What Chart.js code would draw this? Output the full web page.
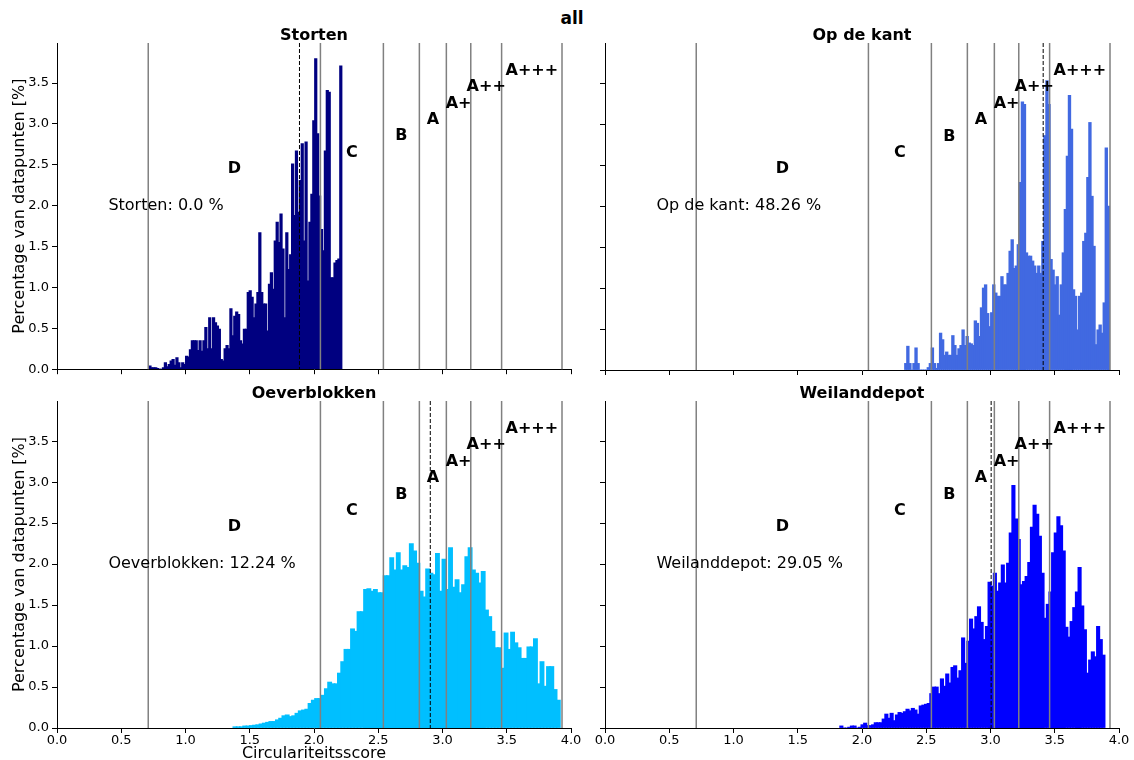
<!DOCTYPE html>
<html>
<head>
<meta charset="utf-8">
<script src="https://cdn.jsdelivr.net/npm/chart.js@4.4.0/dist/chart.umd.min.js"></script>
<style>
  body { margin: 0; background: #fff; width: 1134px; height: 760px; overflow: hidden; position: relative; }
  .panel { position: absolute; }
  #suptitle { position: absolute; left: 472px; width: 200px; top: 8px; text-align: center;
              font: bold 17px 'DejaVu Sans', sans-serif; line-height: 20px; color: #000; }
</style>
</head>
<body>
<div id="suptitle">all</div>
<script>
// groups (subplot titles) and their share of all data points
const groups = ["Storten", "Op de kant", "Oeverblokken", "Weilanddepot"];
const shares = ["0.0", "48.26", "12.24", "29.05"];
const means = [1.887, 3.41, 2.905, 3.005];
// each histogram has 100 bins between these limits
const binStart = [0.716, 2.333, 1.372, 1.829];
const binEnd = [2.216, 3.925, 3.914, 3.889];

const storten = [
  0.04, 0.02, 0.02, 0.02, 0.01, 0, 0, 0.02, 0.08, 0.03,
  0.06, 0.1, 0.12, 0.05, 0.14, 0.08, 0.02, 0.08, 0.06, 0.16,
  0.15, 0.24, 0.35, 0.35, 0.35, 0.23, 0.35, 0.22, 0.35, 0.51,
  0.25, 0.63, 0.25, 0.63, 0.57, 0.53, 0.49, 0.12, 0.1, 0.25,
  0.29, 0.25, 0.74, 0.41, 0.65, 0.7, 0.67, 0.35, 0.31, 0.49,
  0.49, 0.94, 0.96, 0.88, 0.63, 0.8, 0.94, 1.67, 0.94, 0.8,
  0.8, 0.47, 1.04, 1.18, 0.98, 1.57, 1.8, 1.55, 1.9, 1.47,
  0.63, 1.67, 1.22, 1.4, 2.51, 1.88, 2.67, 1.92, 2.31, 2.76,
  1.57, 2.78, 1.08, 1.8, 2.14, 3.04, 3.8, 2.88, 2.12, 1.71,
  1.45, 2.67, 3.41, 3.39, 1.12, 1.12, 1.3, 1.33, 1.35, 3.71
];
const opDeKant = [
  0.08, 0.29, 0.08, 0, 0.08, 0.27, 0.08, 0, 0, 0,
  0, 0.03, 0.08, 0.27, 0.08, 0.02, 0.08, 0.45, 0.37, 0.18,
  0.22, 0.18, 0.18, 0.42, 0.3, 0.18, 0.26, 0.3, 0.49, 0.3,
  0.41, 0.33, 0.32, 0.3, 0.6, 0.57, 0.41, 0.76, 1.0, 1.04,
  0.69, 0.53, 0.7, 1.04, 0.94, 0.9, 0.9, 1.14, 1.04, 1.04,
  1.18, 1.45, 1.59, 1.24, 1.27, 1.53, 2.29, 3.27, 3.24, 1.43,
  1.39, 1.39, 1.33, 1.27, 1.18, 1.27, 1.18, 1.57, 2.86, 3.53,
  3.24, 1.35, 1.22, 1.04, 1.14, 0.67, 1.04, 1.43, 1.96, 2.61,
  3.35, 2.94, 0.98, 0.9, 0.49, 0.9, 0.94, 1.57, 1.67, 2.35,
  3.02, 2.12, 1.51, 0.31, 0.49, 0.55, 0.45, 0.82, 2.71, 2.0
];
const oeverblokken = [
  0.015, 0.015, 0.015, 0.025, 0.025, 0.03, 0.035, 0.04, 0.05, 0.06,
  0.07, 0.08, 0.08, 0.1, 0.12, 0.15, 0.16, 0.14, 0.15, 0.18,
  0.21, 0.22, 0.23, 0.3, 0.34, 0.36, 0.36, 0.4, 0.48, 0.56,
  0.54, 0.54, 0.67, 0.81, 0.96, 0.96, 1.21, 1.18, 1.42, 1.42,
  1.69, 1.7, 1.67, 1.69, 1.65, 1.65, 1.86, 1.86, 2.08, 1.93,
  2.14, 1.93, 1.98, 1.96, 2.25, 2.16, 2.01, 1.67, 1.6, 1.94,
  1.89, 1.87, 2.13, 1.67, 2.06, 1.69, 2.2, 1.72, 1.81, 1.65,
  1.75, 2.09, 2.2, 1.93, 1.89, 1.77, 1.91, 1.44, 1.36, 1.18,
  0.98, 0.98, 0.73, 1.16, 0.96, 1.17, 1.04, 0.98, 0.85, 0.85,
  0.99, 0.99, 1.09, 0.54, 0.81, 0.51, 0.75, 0.75, 0.47, 0.34
];
const weilanddepot = [
  0.025, 0, 0, 0.01, 0.025, 0.025, 0, 0.01, 0.04, 0.06,
  0.03, 0.03, 0.04, 0.065, 0.065, 0.065, 0.11, 0.17, 0.12, 0.18,
  0.09, 0.16, 0.19, 0.18, 0.2, 0.23, 0.21, 0.24, 0.22, 0.17,
  0.27, 0.28, 0.29, 0.3, 0.42, 0.5, 0.5, 0.42, 0.6, 0.51,
  0.66, 0.55, 0.74, 0.76, 0.61, 0.7, 1.1, 0.79, 1.06, 1.33,
  1.21, 1.36, 1.48, 1.29, 1.08, 1.24, 1.78, 1.73, 1.89, 1.67,
  1.77, 1.99, 1.77, 2.01, 2.38, 2.96, 2.55, 2.3, 1.75, 1.79,
  1.85, 2.02, 2.45, 2.72, 2.61, 2.34, 1.89, 1.34, 1.51, 1.66,
  2.14, 2.38, 2.58, 2.47, 2.16, 1.23, 1.11, 1.3, 1.47, 1.66,
  1.96, 1.49, 1.2, 0.67, 0.83, 0.93, 0.87, 1.24, 1.08, 0.89
];
const series = [storten, opDeKant, oeverblokken, weilanddepot];
const colors = ["#000080", "#4169E1", "#00BFFF", "#0000FF"];

// class boundaries and their labels
const thresholds = [0.71, 2.05, 2.54, 2.82, 3.03, 3.22, 3.46, 3.93];
const classLabels = ["D", "C", "B", "A", "A+", "A++", "A+++"];

const FONT = "'DejaVu Sans', sans-serif";
Chart.defaults.font.family = FONT;
Chart.defaults.color = "#000";

// where each subplot sits in the window
const panels = [
  { left: 0, top: 20, width: 590, height: 360, padTop: 23, padRight: 19, yWidth: 57, xHeight: 10 },
  { left: 590, top: 20, width: 544, height: 360, padTop: 23, padRight: 15, yWidth: 15, xHeight: 10 },
  { left: 0, top: 380, width: 590, height: 390, padTop: 21, padRight: 19, yWidth: 57, xHeight: 42 },
  { left: 590, top: 380, width: 544, height: 390, padTop: 21, padRight: 15, yWidth: 15, xHeight: 42 }
];

const overlay = {
    id: "overlay",
    afterDatasetsDraw(chart, args, opts) {
        const { ctx, chartArea: area, scales: { x, y } } = chart;
        const i = opts.panel;
        ctx.save();
        ctx.strokeStyle = "grey";
        ctx.lineWidth = 1.5;
        thresholds.forEach((t) => {
            const px = x.getPixelForValue(t);
            ctx.beginPath();
            ctx.moveTo(px, area.top);
            ctx.lineTo(px, area.bottom);
            ctx.stroke();
        });
        // mean of the group
        ctx.strokeStyle = "#000";
        ctx.lineWidth = 1;
        ctx.setLineDash([4, 2]);
        const mx = x.getPixelForValue(means[i]);
        ctx.beginPath();
        ctx.moveTo(mx, area.top);
        ctx.lineTo(mx, area.bottom);
        ctx.stroke();
        ctx.setLineDash([]);

        ctx.fillStyle = "#000";
        ctx.font = "bold 16px " + FONT;
        ctx.textAlign = "center";
        ctx.textBaseline = "alphabetic";
        classLabels.forEach((lab, k) => {
            const mid = (thresholds[k] + thresholds[k + 1]) / 2;
            ctx.fillText(lab, x.getPixelForValue(mid), y.getPixelForValue(2.4 + 0.2 * k));
        });
        ctx.fillText(groups[i], (area.left + area.right) / 2, area.top - 3);

        ctx.font = "16px " + FONT;
        ctx.textAlign = "left";
        ctx.textBaseline = "middle";
        ctx.fillText(groups[i] + ": " + shares[i] + " %", x.getPixelForValue(0.4), y.getPixelForValue(2.0));
        ctx.restore();
    }
};

panels.forEach((p, i) => {
    const box = document.createElement("div");
    box.className = "panel";
    box.style.left = p.left + "px";
    box.style.top = p.top + "px";
    const canvas = document.createElement("canvas");
    canvas.width = p.width;
    canvas.height = p.height;
    box.appendChild(canvas);
    document.body.appendChild(box);

    const isLeft = i % 2 === 0;
    const isBottom = i >= 2;
    const step = (binEnd[i] - binStart[i]) / series[i].length;

    new Chart(canvas, {
        type: "bar",
        data: {
            datasets: [{
                data: series[i].map((v, k) => ({ x: binStart[i] + step * (k + 0.5), y: v })),
                backgroundColor: colors[i],
                borderWidth: 0,
                grouped: false,
                // slight overlap so neighbouring bins join without seams
                barPercentage: 1.25,
                categoryPercentage: 1,
                inflateAmount: 0.4
            }]
        },
        options: {
            responsive: false,
            animation: false,
            layout: { padding: { top: p.padTop, right: p.padRight, left: 0, bottom: 0 } },
            plugins: {
                legend: { display: false },
                tooltip: { enabled: false },
                overlay: { panel: i }
            },
            scales: {
                x: {
                    type: "linear",
                    min: 0,
                    max: 4,
                    offset: false,
                    grid: { offset: false, drawOnChartArea: false, color: "#000", tickLength: 5 },
                    border: { display: true, color: "#000", width: 1 },
                    ticks: {
                        display: isBottom,
                        stepSize: 0.5,
                        autoSkip: false,
                        maxRotation: 0,
                        padding: 0,
                        font: { size: 13 },
                        callback: (v) => v.toFixed(1)
                    },
                    title: {
                        display: isBottom && isLeft,
                        text: "Circulariteitsscore",
                        font: { size: 16 },
                        padding: { top: 0, bottom: 7 }
                    },
                    afterFit: (s) => { s.height = p.xHeight; }
                },
                y: {
                    min: 0,
                    max: 3.99,
                    grid: { drawOnChartArea: false, color: "#000", tickLength: 5 },
                    border: { display: true, color: "#000", width: 1 },
                    ticks: {
                        display: isLeft,
                        stepSize: 0.5,
                        includeBounds: false,
                        padding: 3,
                        font: { size: 13 },
                        callback: (v) => v.toFixed(1)
                    },
                    title: {
                        display: isLeft,
                        text: "Percentage van datapunten [%]",
                        font: { size: 16 },
                        padding: { top: 10, bottom: 0 }
                    },
                    afterFit: (s) => { s.width = p.yWidth; }
                }
            }
        },
        plugins: [overlay]
    });
});
</script>
</body>
</html>
